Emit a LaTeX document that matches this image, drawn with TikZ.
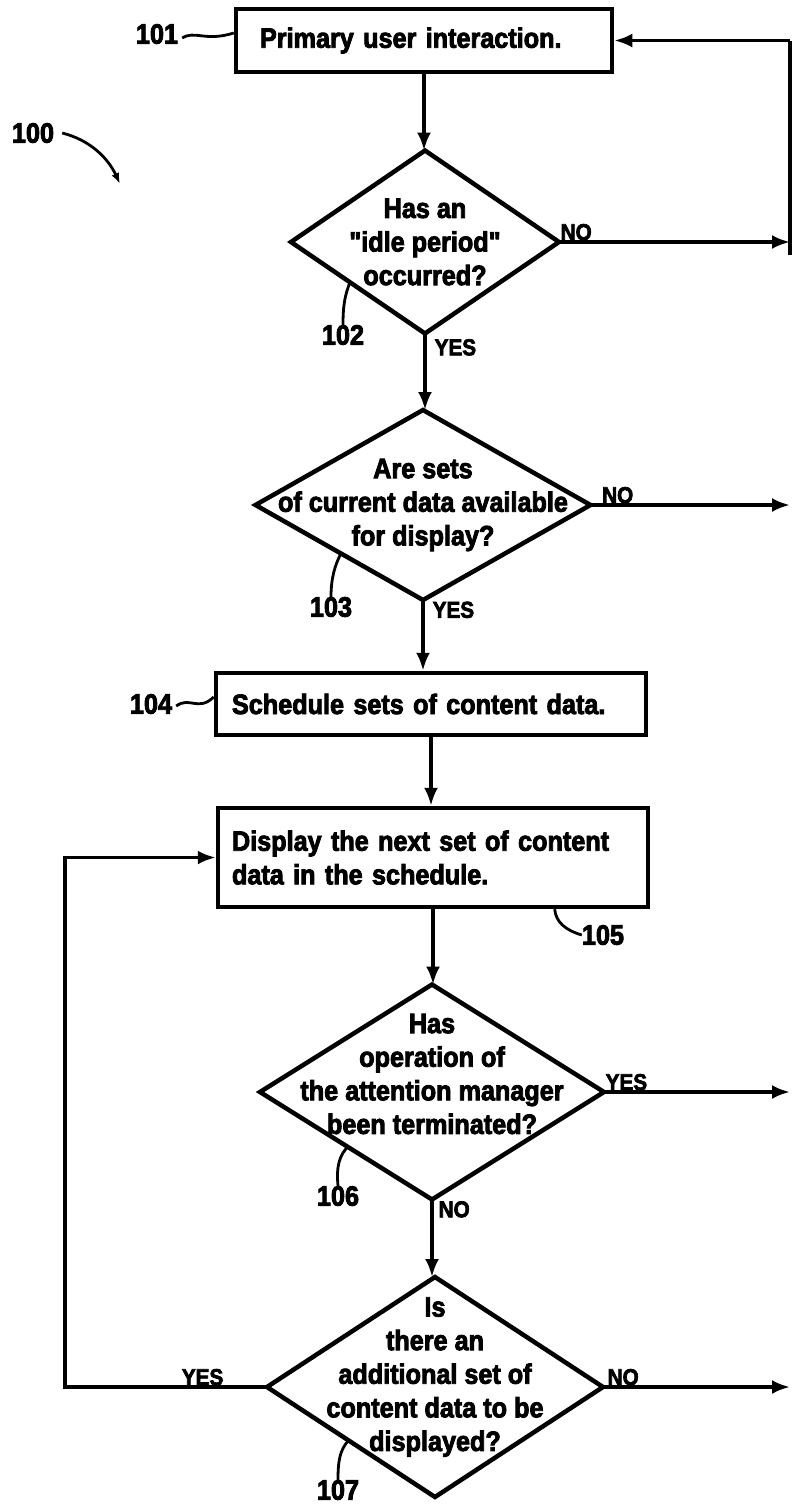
\documentclass[tikz,border=0pt]{standalone}
\usepackage{fontspec}
\setmainfont{Liberation Sans}[Ligatures=TeXOff, FakeStretch=0.9, BoldFeatures={FakeBold=3}]
\usetikzlibrary{shapes.geometric,arrows.meta,calc}
\begin{document}
\begin{tikzpicture}[x=1pt,y=1pt,
  txt/.style={font=\fontsize{28}{33.6}\selectfont\bfseries},
  procbox/.style={draw, line width=4.5pt, txt, align=left, inner ysep=0pt},
  dia/.style={draw, diamond, line width=4.5pt, inner sep=0pt, outer sep=0pt},
  dtext/.style={txt, align=center, inner sep=0pt},
  yn/.style={font=\fontsize{23}{25}\selectfont\bfseries, inner sep=1.5pt},
  num/.style={txt, inner sep=0pt},
  conn/.style={line width=3.5pt},
  arr/.style={conn, -{Latex[length=18pt,width=14pt]}},
  lead/.style={line width=2.8pt},
]
\useasboundingbox (0,0) rectangle (792,-1505);

% process boxes
\node[procbox, minimum width=376pt, minimum height=63pt, text width=328pt, inner xsep=24pt] (b101) at (424,-40.5) {Primary user interaction.};
\node[procbox, minimum width=430pt, minimum height=62pt, text width=398pt, inner xsep=16pt] (b104) at (431,-704) {Schedule sets of content data.};
\node[procbox, minimum width=430pt, minimum height=99pt, text width=402pt, inner xsep=14pt] (b105) at (433,-857.5) {Display the next set of content\\data in the schedule.};

% decisions
\node[dia, minimum width=268pt, minimum height=183pt,
  label={[dtext]center:{Has an\\"idle period"\\occurred?}}] (d102) at (425,-242) {};
\node[dia, minimum width=335pt, minimum height=190pt,
  label={[dtext]center:Are sets\\of current data available\\for display?}] (d103) at (423,-505) {};
\node[dia, minimum width=344pt, minimum height=215pt,
  label={[dtext, yshift=18pt]center:Has\\operation of\\the attention manager\\been terminated?}] (d106) at (432,-1092) {};
\node[dia, minimum width=336pt, minimum height=220pt,
  label={[dtext, yshift=10pt]center:Is\\there an\\additional set of\\content data to be\\displayed?}] (d107) at (435,-1387) {};

% reference numerals
\node[num] (n100) at (33,-133) {100};
\node[num] (n101) at (157,-34) {101};
\node[num] (n102) at (343,-335) {102};
\node[num] (n103) at (331,-607) {103};
\node[num] (n104) at (151,-704) {104};
\node[num] (n105) at (603,-935) {105};
\node[num] (n106) at (338,-1196) {106};
\node[num] (n107) at (338,-1490) {107};

% yes / no labels
\node[yn, anchor=south west] (no102) at (d102.east) {NO};
\node[yn, anchor=north west, xshift=8pt, yshift=-4pt] (yes102) at (d102.south) {YES};
\node[yn, anchor=south west, xshift=10pt] (no103) at (d103.east) {NO};
\node[yn, anchor=north west, xshift=8pt] (yes103) at (d103.south) {YES};
\node[yn, anchor=south west] (yes106) at (d106.east) {YES};
\node[yn, anchor=north west, xshift=5pt] (no106) at (d106.south) {NO};
\node[yn, anchor=south west, xshift=3pt] (no107) at (d107.east) {NO};
\node[yn, anchor=south east, xshift=-42pt] (yes107) at (d107.west) {YES};

% main flow
\draw[arr] (b101.south) -- (b101.south |- d102.north);
\draw[arr] (d102.south) -- (d102.south |- d103.north);
\draw[arr] (d103.south) -- (d103.south |- b104.north);
\draw[arr] (b104.south) -- (b104.south |- b105.north);
\draw[arr] (b105.south) -- (b105.south |- d106.north);
\draw[arr] (d106.south) -- (d106.south |- d107.north);

% right-hand connectors
\coordinate (rt) at (790,-40.5);
\coordinate (rb) at (790,-255);
\draw[conn] (rb) -- (rt);
\draw[arr] (rt) -- (b101.east);
\draw[arr] (d102.east) -- (d102.east -| rt);
\draw[arr] (d103.east) -- (d103.east -| rt);
\draw[arr] (d106.east) -- (d106.east -| rt);
\draw[arr] (d107.east) -- (d107.east -| rt);

% loop back
\coordinate (lp) at (65,-1387);
\draw[arr] (d107.west) -- (lp) |- (b105.west);

% leader lines
\coordinate (a100) at (120,-184);
\draw[lead, -{Latex[length=11pt,width=8pt]}] (n100.east) ++(8,0) .. controls (90,-140) and (108,-158) .. (a100);
\draw[lead] (n101.east) ++(4,-4) .. controls (195,-30) and (205,-42) .. (b101.west |- 0,-33);
\draw[lead] (n104.east) ++(4,-2) .. controls (190,-696) and (198,-712) .. (b104.west |- 0,-697);
\coordinate (e102) at ($(d102.south)!0.56!(d102.west)$);
\draw[lead] (n102.north) .. controls (343,-305) and (345,-295) .. (e102);
\coordinate (e103) at ($(d103.south)!0.49!(d103.west)$);
\draw[lead] (n103.north) .. controls (331,-578) and (335,-565) .. (e103);
\coordinate (e106) at ($(d106.south)!0.49!(d106.west)$);
\draw[lead] (n106.north) .. controls (336,-1165) and (340,-1155) .. (e106);
\coordinate (e107) at ($(d107.south)!0.515!(d107.west)$);
\draw[lead] (n107.north) .. controls (338,-1460) and (340,-1450) .. (e107);
\coordinate (e105) at ($(b105.south west)!0.78!(b105.south east)$);
\draw[lead] (e105) .. controls (556,-922) and (565,-930) .. (n105.west);
\end{tikzpicture}
\end{document}
